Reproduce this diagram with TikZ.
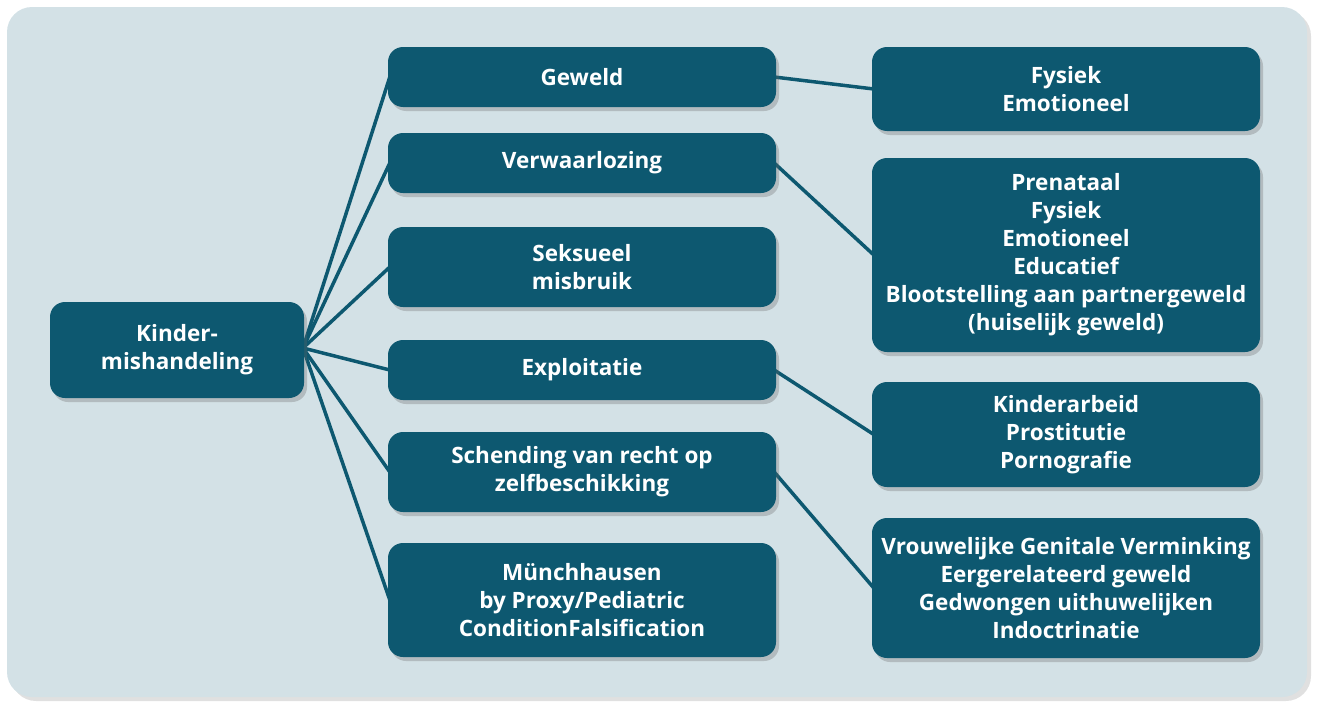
\documentclass[tikz,border=0pt]{standalone}
\usepackage{fontspec}
\setmainfont{Open Sans}
\usetikzlibrary{shadows,positioning}
\definecolor{panel}{HTML}{D3E1E6}
\definecolor{teal}{HTML}{0D5870}
\pgfdeclarelayer{bg}
\pgfdeclarelayer{lines}
\pgfsetlayers{bg,lines,main}
\tikzset{
  box/.style={fill=teal, rounded corners=15pt, text=white, align=center,
    font=\fontsize{22.5pt}{28pt}\selectfont\bfseries, inner sep=0pt,
    drop shadow={opacity=0.3, shadow xshift=3pt, shadow yshift=-4pt, fill=black!60}},
  link/.style={draw=teal, line width=3.5pt}
}
\begin{document}
\begin{tikzpicture}[x=1pt,y=-1pt]
\useasboundingbox (0,0) rectangle (1324,704);
\begin{pgfonlayer}{bg}
\fill[black!12, rounded corners=25pt] (11,11) rectangle (1311,701);
\fill[panel, rounded corners=25pt] (7,7) rectangle (1307,697);
\end{pgfonlayer}
% root
\node[box, minimum width=254pt, minimum height=96pt] (root) at (177,350) {Kinder-\\mishandeling};
% middle
\node[box, minimum width=388pt, minimum height=60pt] (geweld) at (582,77) {Geweld};
\node[box, minimum width=388pt, minimum height=60pt] (verw) at (582,163) {Verwaarlozing};
\node[box, minimum width=388pt, minimum height=80pt] (seks) at (582,267) {Seksueel\\misbruik};
\node[box, minimum width=388pt, minimum height=60pt] (expl) at (582,370) {Exploitatie};
\node[box, minimum width=388pt, minimum height=80pt] (schend) at (582,472) {Schending van recht op\\zelfbeschikking};
\node[box, minimum width=388pt, minimum height=114pt] (munch) at (582,600) {Münchhausen\\by Proxy/Pediatric\\ConditionFalsification};
% right
\node[box, minimum width=388pt, minimum height=84pt] (fys) at (1066,89) {Fysiek\\Emotioneel};
\node[box, minimum width=388pt, minimum height=194pt] (pren) at (1066,255) {Prenataal\\Fysiek\\Emotioneel\\Educatief\\Blootstelling aan partnergeweld\\(huiselijk geweld)};
\node[box, minimum width=388pt, minimum height=105pt] (kind) at (1066,434.5) {Kinderarbeid\\Prostitutie\\Pornografie};
\node[box, minimum width=388pt, minimum height=140pt] (vrouw) at (1066,588) {Vrouwelijke Genitale Verminking\\Eergerelateerd geweld\\Gedwongen uithuwelijken\\Indoctrinatie};
\coordinate (hub) at (303,348);
\begin{pgfonlayer}{lines}
\foreach \t in {geweld,verw,seks,expl,schend,munch}
  \draw[link] (hub) -- ([xshift=2pt]\t.west);
\draw[link] ([xshift=-2pt]geweld.east) -- ([xshift=2pt]fys.west);
\draw[link] ([xshift=-2pt]verw.east) -- ([xshift=2pt]pren.west);
\draw[link] ([xshift=-2pt]expl.east) -- ([xshift=2pt]kind.west);
\draw[link] ([xshift=-2pt]schend.east) -- ([xshift=2pt]vrouw.west);
\end{pgfonlayer}
\end{tikzpicture}
\end{document}
